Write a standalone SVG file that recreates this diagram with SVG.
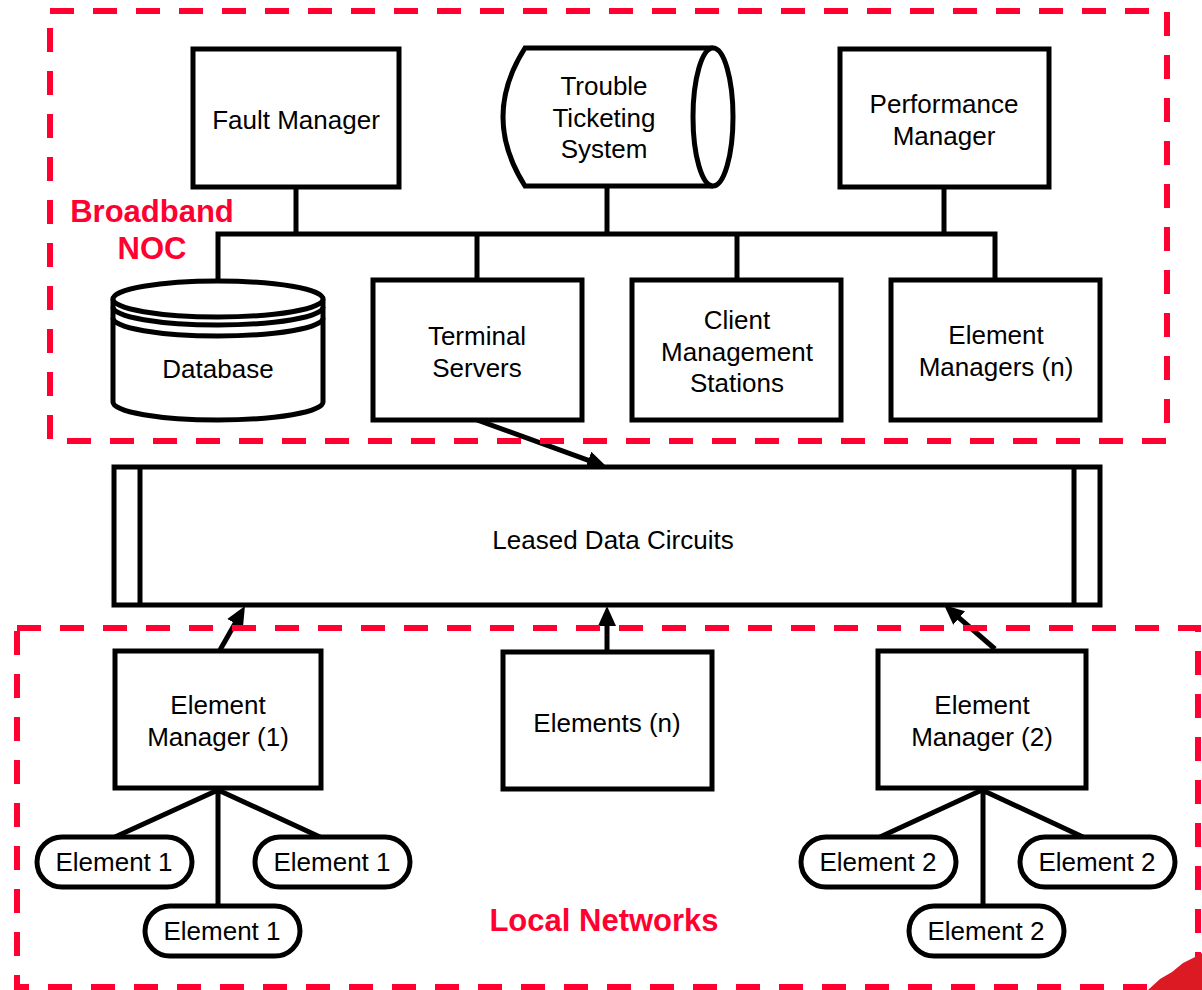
<svg xmlns="http://www.w3.org/2000/svg" width="1202" height="990" viewBox="0 0 1202 990">
<style>
.box{fill:#fff;stroke:#000;stroke-width:5}
.ln{fill:none;stroke:#000;stroke-width:5}
.t{font-family:"Liberation Sans",Arial,sans-serif;font-size:26px;fill:#000;text-anchor:middle}
.rt{font-family:"Liberation Sans",Arial,sans-serif;font-size:31px;font-weight:bold;fill:#ff0030;text-anchor:middle}
.zone{fill:none;stroke:#ff0030;stroke-width:6;stroke-dasharray:24 19}
</style>
<defs>
<marker id="ah" markerUnits="userSpaceOnUse" markerWidth="22" markerHeight="18" refX="12" refY="9" orient="auto">
<path d="M0,0 L20,9 L0,18 Z" fill="#000"/>
</marker>
</defs>
<rect width="1202" height="990" fill="#fff"/>

<g id="connectors">
<path class="ln" d="M218,282 V234 H995 V279"/>
<line class="ln" x1="296" y1="187" x2="296" y2="234"/>
<line class="ln" x1="607" y1="186" x2="607" y2="234"/>
<line class="ln" x1="944" y1="187" x2="944" y2="234"/>
<line class="ln" x1="477" y1="234" x2="477" y2="279"/>
<line class="ln" x1="737" y1="234" x2="737" y2="279"/>
<line class="ln" x1="477" y1="420" x2="599.5" y2="464.3" marker-end="url(#ah)"/>
<line class="ln" x1="220" y1="650" x2="241" y2="613" marker-end="url(#ah)"/>
<line class="ln" x1="607" y1="651" x2="607" y2="614" marker-end="url(#ah)"/>
<line class="ln" x1="995" y1="649" x2="950.1" y2="610.2" marker-end="url(#ah)"/>
<path class="ln" d="M218,790 L115,837 M218,790 L320,837 M218,790 V906"/>
<path class="ln" d="M982,790 L880,837 M982,790 L1083,837 M983,790 V906"/>
</g>

<g id="fault-manager">
<rect class="box" x="193" y="49" width="206" height="138"/>
<text class="t" x="296" y="129">Fault Manager</text>
</g>
<g id="trouble-ticketing">
<path class="box" d="M713,48 H525 Q481,117 525,186 H713"/>
<ellipse class="box" cx="713" cy="117" rx="20" ry="69"/>
<text class="t" x="604" y="95">Trouble</text>
<text class="t" x="604" y="127">Ticketing</text>
<text class="t" x="604" y="158">System</text>
</g>
<g id="performance-manager">
<rect class="box" x="840" y="49" width="209" height="138"/>
<text class="t" x="944" y="113">Performance</text>
<text class="t" x="944" y="145">Manager</text>
</g>
<g id="database">
<path class="box" d="M113,299 V402 A105,18 0 0 0 323,402 V299"/>
<ellipse class="box" cx="218" cy="299" rx="105" ry="18"/>
<path class="ln" d="M113,307 A105,18 0 0 0 323,307 M113,318 A105,18 0 0 0 323,318"/>
<text class="t" x="218" y="378">Database</text>
</g>
<g id="terminal-servers">
<rect class="box" x="373" y="280" width="209" height="140"/>
<text class="t" x="477" y="345">Terminal</text>
<text class="t" x="477" y="377">Servers</text>
</g>
<g id="client-management">
<rect class="box" x="632" y="280" width="209" height="140"/>
<text class="t" x="737" y="329">Client</text>
<text class="t" x="737" y="361">Management</text>
<text class="t" x="737" y="392">Stations</text>
</g>
<g id="element-managers-n">
<rect class="box" x="891" y="280" width="209" height="140"/>
<text class="t" x="996" y="344">Element</text>
<text class="t" x="996" y="376">Managers (n)</text>
</g>
<g id="leased-data-circuits">
<rect class="box" x="114" y="467" width="986" height="138"/>
<line class="ln" x1="140" y1="467" x2="140" y2="605"/>
<line class="ln" x1="1074" y1="467" x2="1074" y2="605"/>
<text class="t" x="613" y="549">Leased Data Circuits</text>
</g>
<g id="element-manager-1">
<rect class="box" x="115" y="651" width="206" height="137"/>
<text class="t" x="218" y="714">Element</text>
<text class="t" x="218" y="746">Manager (1)</text>
</g>
<g id="elements-n">
<rect class="box" x="503" y="652" width="209" height="137"/>
<text class="t" x="607" y="732">Elements (n)</text>
</g>
<g id="element-manager-2">
<rect class="box" x="878" y="651" width="208" height="137"/>
<text class="t" x="982" y="714">Element</text>
<text class="t" x="982" y="746">Manager (2)</text>
</g>
<g id="element-1a"><rect class="box" x="37" y="837" width="155" height="50" rx="25"/><text class="t" x="114" y="871">Element 1</text></g>
<g id="element-1b"><rect class="box" x="255" y="837" width="155" height="50" rx="25"/><text class="t" x="332" y="871">Element 1</text></g>
<g id="element-1c"><rect class="box" x="145" y="906" width="155" height="50" rx="25"/><text class="t" x="222" y="940">Element 1</text></g>
<g id="element-2a"><rect class="box" x="801" y="837" width="155" height="50" rx="25"/><text class="t" x="878" y="871">Element 2</text></g>
<g id="element-2b"><rect class="box" x="1020" y="837" width="155" height="50" rx="25"/><text class="t" x="1097" y="871">Element 2</text></g>
<g id="element-2c"><rect class="box" x="909" y="906" width="155" height="50" rx="25"/><text class="t" x="986" y="940">Element 2</text></g>

<g id="broadband-noc">
<rect class="zone" x="50" y="11" width="1117" height="430"/>
<text class="rt" x="152" y="222">Broadband</text>
<text class="rt" x="152" y="259">NOC</text>
</g>
<g id="local-networks">
<rect class="zone" x="17" y="628" width="1181" height="359"/>
<text class="rt" x="604" y="931">Local Networks</text>
</g>
<path d="M1148,990 L1160,979 L1172,972 L1183,963 L1195,957 L1202,953 L1202,990 Z" fill="#dc1a24"/>
</svg>
